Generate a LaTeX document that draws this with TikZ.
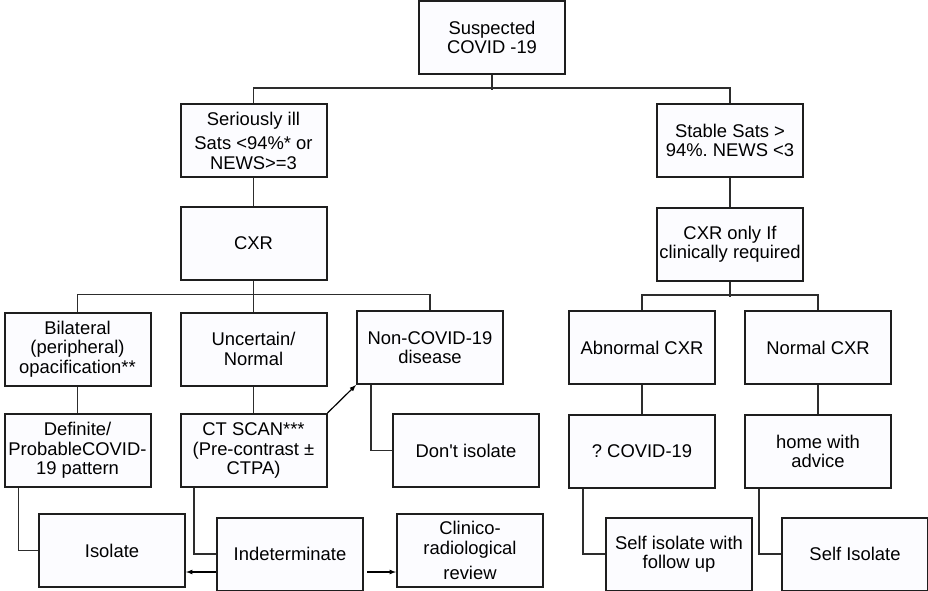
\documentclass[tikz,border=0pt]{standalone}
\usepackage{xcolor}
\usepackage{fontspec}
\setmainfont{Liberation Sans}
\usepackage{tikz}
\usetikzlibrary{positioning}
\usetikzlibrary{arrows}
\definecolor{boxfill}{RGB}{252,252,255}
\definecolor{boxline}{RGB}{30,30,30}
\definecolor{conline}{RGB}{45,45,45}
\frenchspacing

\begin{document}
\begin{tikzpicture}
\tikzstyle{box} = [draw=boxline, fill=boxfill, line width=2pt, minimum width=146pt, minimum height=73pt, inner sep=2pt, align=center, font=\fontsize{18.4}{19.5}\selectfont]
\tikzstyle{con} = [draw=conline, line width=1.2pt]
\tikzstyle{line} = [draw=black, line width=1.2pt, -latex]

\path [use as bounding box] (0,0) rectangle (928pt,-591pt);

\node [box] (susp) at (492pt,-37.5pt) {Suspected\\COVID -19};
\node [box, on grid, below left=103pt and 238.5pt of susp] (ill) {Seriously ill\\[5pt]Sats <94\%* or\\NEWS>=3};
\node [box, on grid, below right=103pt and 238pt of susp] (stable) {Stable Sats >\\94\%. NEWS <3};
\node [box, on grid, below=103pt of ill] (cxr) {CXR};
\node [box, on grid, below=103.5pt of stable] (cxronly) {CXR only If\\clinically required};

% seriously ill branch
\node [box, on grid, below=105.5pt of cxr] (uncert) {Uncertain/\\Normal};
\node [box, on grid, left=176pt of uncert] (bilat) {Bilateral\\(peripheral)\\opacification**};
\node [box, on grid, above right=1.5pt and 176.5pt of uncert] (noncov) {Non-COVID-19\\disease};
\node [box, on grid, below=101.5pt of uncert] (ctscan) {CT SCAN***\\(Pre-contrast ±\\CTPA)};
\node [box, on grid, below=101.5pt of bilat] (defin) {Definite/\\ProbableCOVID-\\19 pattern};
\node [box, on grid, right=212.5pt of ctscan] (dontiso) {Don\textquotesingle t isolate};
\node [box, on grid, below right=100pt and 34.5pt of defin] (isolate) {Isolate};
\node [box, on grid, below right=103.5pt and 36.5pt of ctscan] (indet) {Indeterminate};
\node [box, on grid, below right=100pt and 4pt of dontiso] (clinico) {Clinico-\\radiological\\[6pt]review};

% stable branch
\node [box, on grid, below left=103.5pt and 88pt of cxronly] (abn) {Abnormal CXR};
\node [box, on grid, right=176pt of abn] (norm) {Normal CXR};
\node [box, on grid, below=104pt of abn] (qcovid) {? COVID-19};
\node [box, on grid, below=104pt of norm] (home) {home with\\advice};
\node [box, on grid, below right=102.5pt and 37pt of qcovid] (selfisofu) {Self isolate with\\follow up};
\node [box, on grid, right=176pt of selfisofu] (selfiso) {Self Isolate};

\path [con] (susp.south) -- ++(0,-15pt);
\path [con] (ill.north) -- ++(0,15pt) -| (stable.north);
\path [con] (ill) -- (cxr);
\path [con] (stable) -- (cxronly);
\path [con] (cxr) -- (uncert);
\path [con] (bilat.north) -- ++(0,17pt) -| (noncov.north);
\path [con] (cxronly.south) -- ++(0,-15pt);
\path [con] (abn.north) -- ++(0,15pt) -| (norm.north);
\path [con] (bilat) -- (defin);
\path [con] (uncert) -- (ctscan);
\path [con] (abn) -- (qcovid);
\path [con] (norm) -- (home);
\path [con] ([xshift=15pt]defin.south west) |- (isolate.west);
\path [con] ([xshift=14.5pt]ctscan.south west) |- (indet.west);
\path [con] ([xshift=15pt]noncov.south west) |- (dontiso.west);
\path [con] ([xshift=15pt]qcovid.south west) |- (selfisofu.west);
\path [con] ([xshift=15pt]home.south west) |- (selfiso.west);

\path [line] (ctscan.north east) -- (noncov.south west);
\path [line] ([yshift=-18pt]indet.west) -- ([yshift=-18pt]indet.west -| isolate.east);
\path [line] ([xshift=3pt, yshift=-18pt]indet.east) -- ([yshift=-18pt]indet.east -| clinico.west);
\end{tikzpicture}
\end{document}
